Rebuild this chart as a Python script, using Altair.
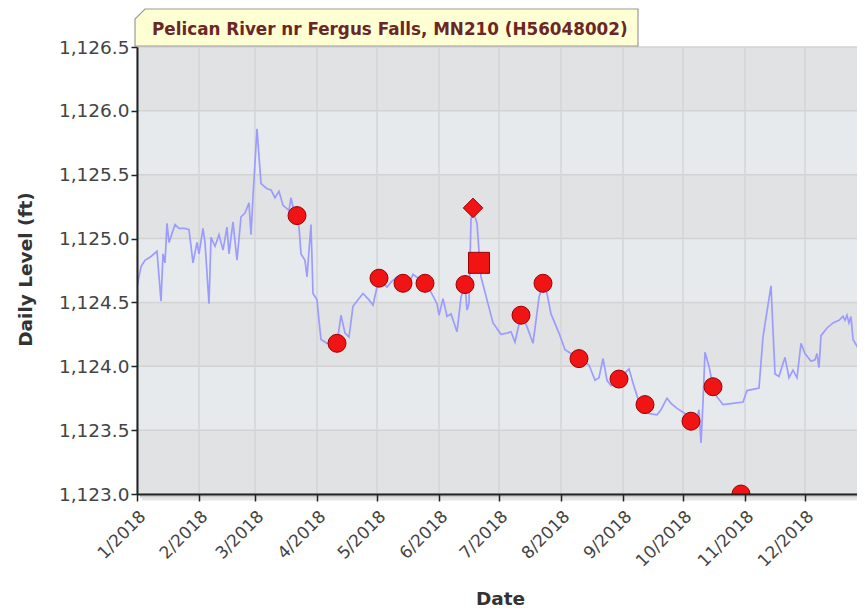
import altair as alt
import pandas as pd

# ---- data ----
line_dates = [
    "2018-01-01", "2018-01-03", "2018-01-05", "2018-01-08", "2018-01-11", "2018-01-13", "2018-01-14",
    "2018-01-15", "2018-01-16", "2018-01-17", "2018-01-20", "2018-01-22", "2018-01-25", "2018-01-27",
    "2018-01-29", "2018-01-31", "2018-02-01", "2018-02-03", "2018-02-04", "2018-02-06", "2018-02-07",
    "2018-02-09", "2018-02-11", "2018-02-13", "2018-02-15", "2018-02-16", "2018-02-18", "2018-02-20",
    "2018-02-22", "2018-02-24", "2018-02-26", "2018-02-27", "2018-02-28", "2018-03-02", "2018-03-04",
    "2018-03-07", "2018-03-09", "2018-03-11", "2018-03-13", "2018-03-15", "2018-03-18", "2018-03-19",
    "2018-03-21", "2018-03-22", "2018-03-23", "2018-03-24", "2018-03-26", "2018-03-27", "2018-03-29",
    "2018-03-30", "2018-04-01", "2018-04-02", "2018-04-03", "2018-04-06", "2018-04-11", "2018-04-13",
    "2018-04-15", "2018-04-17", "2018-04-19", "2018-04-22", "2018-04-24", "2018-04-27", "2018-04-29",
    "2018-05-02", "2018-05-06", "2018-05-08", "2018-05-11", "2018-05-14", "2018-05-17", "2018-05-19",
    "2018-05-25", "2018-05-28", "2018-05-31", "2018-06-01", "2018-06-03", "2018-06-05", "2018-06-07",
    "2018-06-10", "2018-06-12", "2018-06-14", "2018-06-15", "2018-06-16", "2018-06-17", "2018-06-18",
    "2018-06-20", "2018-06-21", "2018-06-22", "2018-06-25", "2018-06-28", "2018-07-02", "2018-07-05",
    "2018-07-07", "2018-07-09", "2018-07-12", "2018-07-15", "2018-07-18", "2018-07-21", "2018-07-23",
    "2018-07-25", "2018-07-27", "2018-07-31", "2018-08-03", "2018-08-05", "2018-08-10", "2018-08-15",
    "2018-08-18", "2018-08-20", "2018-08-22", "2018-08-24", "2018-08-26", "2018-08-30", "2018-09-04",
    "2018-09-06", "2018-09-09", "2018-09-12", "2018-09-14", "2018-09-18", "2018-09-20", "2018-09-23",
    "2018-09-25", "2018-09-28", "2018-10-01", "2018-10-05", "2018-10-08", "2018-10-09", "2018-10-10",
    "2018-10-11", "2018-10-12", "2018-10-14", "2018-10-16", "2018-10-18", "2018-10-21", "2018-10-26",
    "2018-10-31", "2018-11-02", "2018-11-08", "2018-11-10", "2018-11-14", "2018-11-16", "2018-11-18",
    "2018-11-21", "2018-11-23", "2018-11-25", "2018-11-27", "2018-11-29", "2018-12-01", "2018-12-04",
    "2018-12-06", "2018-12-07", "2018-12-08", "2018-12-09", "2018-12-12", "2018-12-15", "2018-12-18",
    "2018-12-20", "2018-12-21", "2018-12-22", "2018-12-23", "2018-12-24", "2018-12-25", "2018-12-28",
    "2018-12-30", "2018-12-31",
]
line_levels = [
    1124.62, 1124.78, 1124.83, 1124.86, 1124.90, 1124.51, 1124.88,
    1124.81, 1125.12, 1124.97, 1125.11, 1125.08, 1125.08, 1125.07,
    1124.81, 1124.97, 1124.88, 1125.08, 1124.97, 1124.49, 1125.01,
    1124.94, 1125.03, 1124.91, 1125.09, 1124.88, 1125.13, 1124.83,
    1125.17, 1125.20, 1125.28, 1125.03, 1125.33, 1125.86, 1125.43,
    1125.39, 1125.38, 1125.32, 1125.37, 1125.26, 1125.22, 1125.32,
    1125.17, 1125.17, 1125.09, 1124.88, 1124.83, 1124.70, 1125.11,
    1124.57, 1124.52, 1124.36, 1124.21, 1124.18, 1124.18, 1124.40,
    1124.26, 1124.23, 1124.47, 1124.53, 1124.57, 1124.52, 1124.48,
    1124.69, 1124.62, 1124.66, 1124.70, 1124.65, 1124.65, 1124.72,
    1124.65, 1124.58, 1124.49, 1124.40, 1124.53, 1124.39, 1124.41,
    1124.27, 1124.54, 1124.64, 1124.44, 1124.49, 1125.15, 1125.22,
    1125.12, 1124.90, 1124.70, 1124.52, 1124.34, 1124.25, 1124.26,
    1124.27, 1124.19, 1124.40, 1124.31, 1124.18, 1124.54, 1124.65,
    1124.57, 1124.41, 1124.26, 1124.13, 1124.11, 1124.06, 1124.01,
    1123.89, 1123.91, 1124.06, 1123.89, 1123.85, 1123.90, 1123.98,
    1123.87, 1123.72, 1123.70, 1123.63, 1123.62, 1123.66, 1123.75,
    1123.71, 1123.67, 1123.64, 1123.60, 1123.60, 1123.66, 1123.40,
    1123.72, 1124.11, 1124.00, 1123.84, 1123.76, 1123.70, 1123.71,
    1123.72, 1123.81, 1123.83, 1124.23, 1124.63, 1123.94, 1123.92,
    1124.07, 1123.91, 1123.97, 1123.91, 1124.18, 1124.10, 1124.04,
    1124.05, 1124.10, 1123.99, 1124.24, 1124.30, 1124.34, 1124.36,
    1124.39, 1124.36, 1124.40, 1124.34, 1124.39, 1124.21, 1124.13,
    1123.85, 1124.60,
]

meas_dates = ["2018-03-22", "2018-04-11", "2018-05-02", "2018-05-14", "2018-05-25", "2018-06-14",
              "2018-06-18", "2018-06-21", "2018-07-12", "2018-07-23", "2018-08-10", "2018-08-30",
              "2018-09-12", "2018-10-05", "2018-10-16", "2018-10-30"]
meas_levels = [1125.18, 1124.18, 1124.69, 1124.65, 1124.65, 1124.64,
               1125.24, 1124.81, 1124.40, 1124.65, 1124.06, 1123.90,
               1123.70, 1123.57, 1123.84, 1123.00]
meas_kinds = ["circle", "circle", "circle", "circle", "circle", "circle",
              "diamond", "square", "circle", "circle", "circle", "circle",
              "circle", "circle", "circle", "circle"]

band_lo = [1123.0, 1123.5, 1124.0, 1124.5, 1125.0, 1125.5, 1126.0]
band_hi = [1123.5, 1124.0, 1124.5, 1125.0, 1125.5, 1126.0, 1126.5]
band_shade = ["dark", "light", "dark", "light", "dark", "light", "dark"]

y_ticks = [1123.0, 1123.5, 1124.0, 1124.5, 1125.0, 1125.5, 1126.0, 1126.5]
month_ticks = ["2018-01-01", "2018-02-01", "2018-03-01", "2018-04-01", "2018-05-01", "2018-06-01",
               "2018-07-01", "2018-08-01", "2018-09-01", "2018-10-01", "2018-11-01", "2018-12-01"]

title_text = "Pelican River nr Fergus Falls, MN210 (H56048002)"

# ---- build ----
W, H = 720, 447
FONT = "DejaVu Sans"

line_df = pd.DataFrame({"date": line_dates, "level": line_levels})
meas_df = pd.DataFrame({"date": meas_dates, "level": meas_levels, "kind": meas_kinds})
band_df = pd.DataFrame({"lo": band_lo, "hi": band_hi, "shade": band_shade})
ytick_df = pd.DataFrame({"v": y_ticks})
mtick_df = pd.DataFrame({"d": month_ticks})
title_df = pd.DataFrame({"t": [title_text]})
strip_df = pd.DataFrame({"k": ["cover"]})

xscale = alt.Scale(type="utc",
                   domain=[alt.DateTime(year=2018, month=1, date=1, utc=True),
                           alt.DateTime(year=2018, month=12, date=27, utc=True)])
yscale = alt.Scale(domain=[1123.0, 1126.5], nice=False, zero=False)

xaxis = alt.Axis(
    values=[alt.DateTime(year=2018, month=m, date=1, utc=True) for m in range(1, 13)],
    labelExpr="utcFormat(datum.value, '%-m/%Y')",
    labelAngle=315, labelAlign="right", labelBaseline="top",
    labelFont=FONT, labelFontSize=17, labelColor="#444444", labelPadding=7,
    labelFlush=False, labelOverlap=False, labelBound=False,
    grid=False, domainColor="#222222", domainWidth=2, tickColor="#222222",
    tickSize=7, tickWidth=1.5,
    title="Date", titleFont=FONT, titleFontSize=18.5, titleFontWeight="bold",
    titleColor="#333333", titleX=363, titleY=104, titleBaseline="middle",
    titleAlign="center", zindex=2,
)
yaxis = alt.Axis(
    values=y_ticks, format=",.1f",
    labelFont=FONT, labelFontSize=18.5, labelColor="#444444", labelPadding=2,
    labelFlush=False, labelOverlap=False, labelBound=False,
    grid=False, domainColor="#222222", domainWidth=2, tickColor="#222222",
    tickSize=6, tickWidth=1.5,
    title="Daily Level (ft)", titleFont=FONT, titleFontSize=18.5, titleFontWeight="bold",
    titleColor="#333333", titleX=-112, titleY=222, titleAngle=270,
    titleBaseline="middle", titleAlign="center", zindex=2,
)

bands = alt.Chart(band_df).mark_rect().encode(
    y=alt.Y("lo:Q", scale=yscale, axis=yaxis),
    y2="hi:Q",
    x=alt.value(0), x2=alt.value(W),
    color=alt.Color("shade:N", scale=alt.Scale(domain=["dark", "light"],
                                               range=["#e1e2e4", "#e7eaed"]), legend=None),
)

hgrid = alt.Chart(ytick_df).mark_rule(color="#d2d2d2", strokeWidth=1.5).encode(
    y=alt.Y("v:Q", scale=yscale, axis=yaxis),
)

vgrid = alt.Chart(mtick_df).mark_rule(color="#d4d4d4", strokeWidth=1.5).encode(
    x=alt.X("d:T", scale=xscale, axis=xaxis),
)

line = alt.Chart(line_df).mark_line(color="#9c9cff", strokeWidth=1.7, clip=True).encode(
    x=alt.X("date:T", scale=xscale, axis=xaxis),
    y=alt.Y("level:Q", scale=yscale, axis=yaxis),
)

points = alt.Chart(meas_df).mark_point(filled=True, opacity=1, fill="#f01414",
                                      stroke="#9a0000", strokeWidth=1, clip=True).encode(
    x=alt.X("date:T", scale=xscale, axis=xaxis),
    y=alt.Y("level:Q", scale=yscale, axis=yaxis),
    shape=alt.Shape("kind:N", scale=alt.Scale(domain=["circle", "diamond", "square"],
                                              range=["circle", "diamond", "square"]), legend=None),
    size=alt.Size("kind:N", scale=alt.Scale(domain=["circle", "diamond", "square"],
                                            range=[324, 441, 256]), legend=None),
)

# white strip just below the plot frame (hides marker parts below the axis) + faint shadow
cover = alt.Chart(strip_df).mark_rect(fill="#ffffff", stroke="#ffffff", opacity=1).encode(
    x=alt.value(0), x2=alt.value(W), y=alt.value(H + 1), y2=alt.value(H + 12),
)
shade1 = alt.Chart(strip_df).mark_rule(color="#cdcdcd", strokeWidth=2.5).encode(
    x=alt.value(3), x2=alt.value(W), y=alt.value(H + 2.5), y2=alt.value(H + 2.5),
)
shade2 = alt.Chart(strip_df).mark_rule(color="#e6e6e6", strokeWidth=3).encode(
    x=alt.value(5), x2=alt.value(W), y=alt.value(H + 5), y2=alt.value(H + 5),
)

# title tab with a cut top-left corner (custom symbol path, unit = half width)
tab_path = "M -0.9602 -0.07356 L 1 -0.07356 L 1 0.07356 L -1 0.07356 L -1 -0.0338 Z"
tab = alt.Chart(title_df).mark_point(shape=tab_path, filled=True, opacity=1,
                                     fill="#ffffd4", stroke="#9a9a9a", strokeWidth=1.2,
                                     size=503 * 503).encode(
    x=alt.value(249.5), y=alt.value(-19.5),
)
tab_text = alt.Chart(title_df).mark_text(align="left", baseline="middle", font=FONT,
                                         fontSize=16.8, fontWeight="bold", color="#6b2626").encode(
    x=alt.value(15), y=alt.value(-17), text="t:N",
)

chart = alt.layer(bands, hgrid, vgrid, line, points, cover, shade1, shade2, tab, tab_text).properties(
    width=W, height=H,
    autosize=alt.AutoSizeParams(type="none"),
    padding={"left": 129, "top": 39, "right": 0, "bottom": 116},
).configure_view(stroke="#b5b5b5", strokeWidth=1)

chart.save("out.html", embed_options={"renderer": "svg", "actions": False})
